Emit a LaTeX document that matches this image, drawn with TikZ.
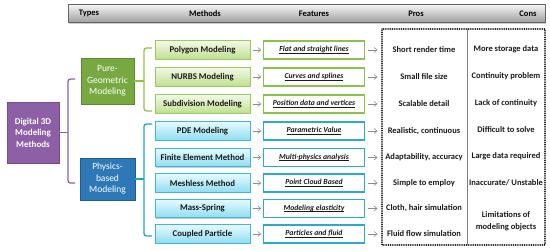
\documentclass[tikz,border=0pt]{standalone}
\usepackage{fontspec}
\setmainfont{Carlito}
\usetikzlibrary{shadows,arrows.meta}
\definecolor{rootfill}{HTML}{8D5FA6}
\definecolor{rootdraw}{HTML}{764C8F}
\definecolor{pgfill}{HTML}{78A940}
\definecolor{pgdraw}{HTML}{5E8A2E}
\definecolor{pbfill}{HTML}{2E78B7}
\definecolor{pbdraw}{HTML}{1F5E94}
\definecolor{gbr}{HTML}{8DC63F}
\definecolor{bbr}{HTML}{1BA6C9}
\definecolor{mgtop}{HTML}{F2F9E6}
\definecolor{mgbot}{HTML}{C0DF90}
\definecolor{mgdraw}{HTML}{9ACB5E}
\definecolor{mbtop}{HTML}{E6FAFE}
\definecolor{mbbot}{HTML}{8EDDF0}
\definecolor{mbdraw}{HTML}{3DB8D8}
\definecolor{fgdraw}{HTML}{8BC34A}
\definecolor{fbdraw}{HTML}{29ABCF}
\definecolor{txtdark}{HTML}{1A1A1A}
\newcommand\featul[1]{\setbox0\hbox{#1}\rlap{\rule[-1.3pt]{\wd0}{0.5pt}}\box0}
\tikzset{
  sh/.style={drop shadow={shadow xshift=1.2pt,shadow yshift=-1.2pt,opacity=0.35,fill=black!60}},
  hdr/.style={draw=black!60,line width=0.8pt,top color=black!4,bottom color=black!38,minimum width=477pt,minimum height=18pt,sh},
  hdrtxt/.style={font=\bfseries\fontsize{8.5}{10}\selectfont,text=black,inner sep=0pt},
  rootbox/.style={draw=rootdraw,line width=0.6pt,fill=rootfill,text=white,align=center,minimum width=52pt,minimum height=61pt,font=\bfseries\fontsize{9}{11.5}\selectfont,inner sep=1pt,sh},
  pgbox/.style={draw=pgdraw,line width=0.6pt,fill=pgfill,text=white,align=center,minimum width=53pt,minimum height=46pt,font=\fontsize{9.5}{11.5}\selectfont,inner sep=1pt,sh},
  pbbox/.style={draw=pbdraw,line width=0.6pt,fill=pbfill,text=white,align=center,minimum width=55pt,minimum height=42pt,font=\fontsize{9.5}{11.5}\selectfont,inner sep=1pt,sh},
  mg/.style={draw=mgdraw,line width=0.7pt,top color=mgtop,bottom color=mgbot,minimum width=95pt,minimum height=18.5pt,font=\bfseries\fontsize{8.8}{10}\selectfont,text=txtdark,inner sep=1pt,sh},
  mb/.style={draw=mbdraw,line width=0.7pt,top color=mbtop,bottom color=mbbot,minimum width=95pt,minimum height=18.5pt,font=\bfseries\fontsize{8.8}{10}\selectfont,text=txtdark,inner sep=1pt,sh},
  fg/.style={draw=fgdraw,line width=1.6pt,fill=white,minimum width=101pt,minimum height=18pt,text height=6pt,text depth=2pt,font=\bfseries\itshape\fontsize{7.7}{9}\selectfont,text=txtdark,inner sep=1pt},
  fb/.style={draw=fbdraw,line width=1.6pt,fill=white,minimum width=101pt,minimum height=18pt,text height=6pt,text depth=2pt,font=\bfseries\itshape\fontsize{7.7}{9}\selectfont,text=txtdark,inner sep=1pt},
  ptxt/.style={font=\bfseries\fontsize{8.5}{11.5}\selectfont,text=txtdark,align=center,inner sep=1pt},
  arr/.style={draw=black!45,line width=0.6pt,-{Straight Barb[length=3pt,width=5pt]},shorten <=2.5pt,shorten >=1.5pt},
  pbr/.style={draw=rootfill,line width=1.3pt,rounded corners=2.5pt},
  gbrs/.style={draw=gbr,line width=1.3pt,rounded corners=2.5pt},
  bbrs/.style={draw=bbr,line width=1.3pt,rounded corners=2.5pt}
}
\begin{document}
\begin{tikzpicture}[x=1pt,y=-1pt]
\useasboundingbox (0,0) rectangle (550,251);
% header
\node[hdr] (header) at (306.5,13.5) {};
\node[hdrtxt] (h1) at (89,13.5) {Types};
\node[hdrtxt] (h2) at (205,13.5) {Methods};
\node[hdrtxt] (h3) at (314,13.5) {Features};
\node[hdrtxt] (h4) at (416,13.5) {Pros};
\node[hdrtxt] (h5) at (528,13.5) {Cons};
% type boxes
\node[rootbox] (root) at (33,132.5) {Digital 3D\\Modeling\\Methods};
\node[pgbox] (pg) at (107.5,81) {Pure-\\Geometric\\Modeling};
\node[pbbox] (pb) at (107.5,179) {Physics-\\based\\Modeling};
% methods
\node[mg] (m1) at (202.5,50) {Polygon Modeling};
\node[mg] (m2) at (202.5,77) {NURBS Modeling};
\node[mg] (m3) at (202.5,104) {Subdivision Modeling};
\node[mb] (m4) at (202.5,131) {PDE Modeling};
\node[mb] (m5) at (202.5,157.5) {Finite Element Method};
\node[mb] (m6) at (202.5,183) {Meshless Method};
\node[mb] (m7) at (202.5,208.5) {Mass-Spring};
\node[mb] (m8) at (202.5,234) {Coupled Particle};
% features
\node[fg] (f1) at (314,50) {\featul{Flat and straight lines}};
\node[fg] (f2) at (314,77) {\featul{Curves and splines}};
\node[fg] (f3) at (314,104) {\featul{Position data and vertices}};
\node[fb] (f4) at (314,131) {\featul{Parametric Value}};
\node[fb] (f5) at (314,157.5) {\featul{Multi-physics analysis}};
\node[fb] (f6) at (314,183) {\featul{Point Cloud Based}};
\node[fb] (f7) at (314,208.5) {\featul{Modeling elasticity}};
\node[fb] (f8) at (314,234) {\featul{Particles and fluid}};
% arrow end points at the table
\coordinate (e1) at (379,50);
\coordinate (e2) at (379,77);
\coordinate (e3) at (379,104);
\coordinate (e4) at (379,131);
\coordinate (e5) at (379,157.5);
\coordinate (e6) at (379,183);
\coordinate (e7) at (379,208.5);
\coordinate (e8) at (379,234);
\foreach \i in {1,...,8}{
  \draw[arr] (m\i) -- (f\i);
  \draw[arr] (f\i) -- (e\i);
}
% table
\draw[line width=1.3pt,dash pattern=on 0.01pt off 1.8pt,line cap=round] (382,29) rectangle (545,245);
\coordinate (vt) at (467,29);
\coordinate (vb) at (467,245);
\draw[black!50,line width=0.9pt] (vt) -- (vb);
% pros
\node[ptxt] (p1) at (424,50) {Short render time};
\node[ptxt] (p2) at (424,77) {Small file size};
\node[ptxt] (p3) at (424,104) {Scalable detail};
\node[ptxt] (p4) at (424,131) {Realistic, continuous};
\node[ptxt] (p5) at (424,157.5) {Adaptability, accuracy};
\node[ptxt] (p6) at (424,183) {Simple to employ};
\node[ptxt] (p7) at (424,208.5) {Cloth, hair simulation};
\node[ptxt] (p8) at (424,234) {Fluid flow simulation};
% cons
\node[ptxt] (c1) at (506,49) {More storage data};
\node[ptxt] (c2) at (506,76) {Continuity problem};
\node[ptxt] (c3) at (506,103) {Lack of continuity};
\node[ptxt] (c4) at (506,130) {Difficult to solve};
\node[ptxt] (c5) at (506,156.5) {Large data required};
\node[ptxt] (c6) at (506,183) {Inaccurate/ Unstable};
\node[ptxt] (c7) at (506,221) {Limitations of\\modeling objects};
% brackets
\coordinate (pt) at (68,79);
\coordinate (pbt) at (68,183);
\draw[pbr] ([xshift=7pt]pt) -- (pt) -- (pbt) -- ([xshift=7pt]pbt);
\draw[pbr] (root.east) -- (root.east -| pt);
\coordinate (gt) at (144,48);
\coordinate (gb) at (144,111);
\draw[gbrs] ([xshift=8pt]gt) -- (gt) -- (gb) -- ([xshift=8pt]gb);
\draw[gbrs] (pg.east) -- (pg.east -| gt);
\coordinate (bt) at (144,124);
\coordinate (bb) at (144,236);
\draw[bbrs] ([xshift=8pt]bt) -- (bt) -- (bb) -- ([xshift=8pt]bb);
\draw[bbrs] (pb.east) -- (pb.east -| bt);
\end{tikzpicture}
\end{document}
